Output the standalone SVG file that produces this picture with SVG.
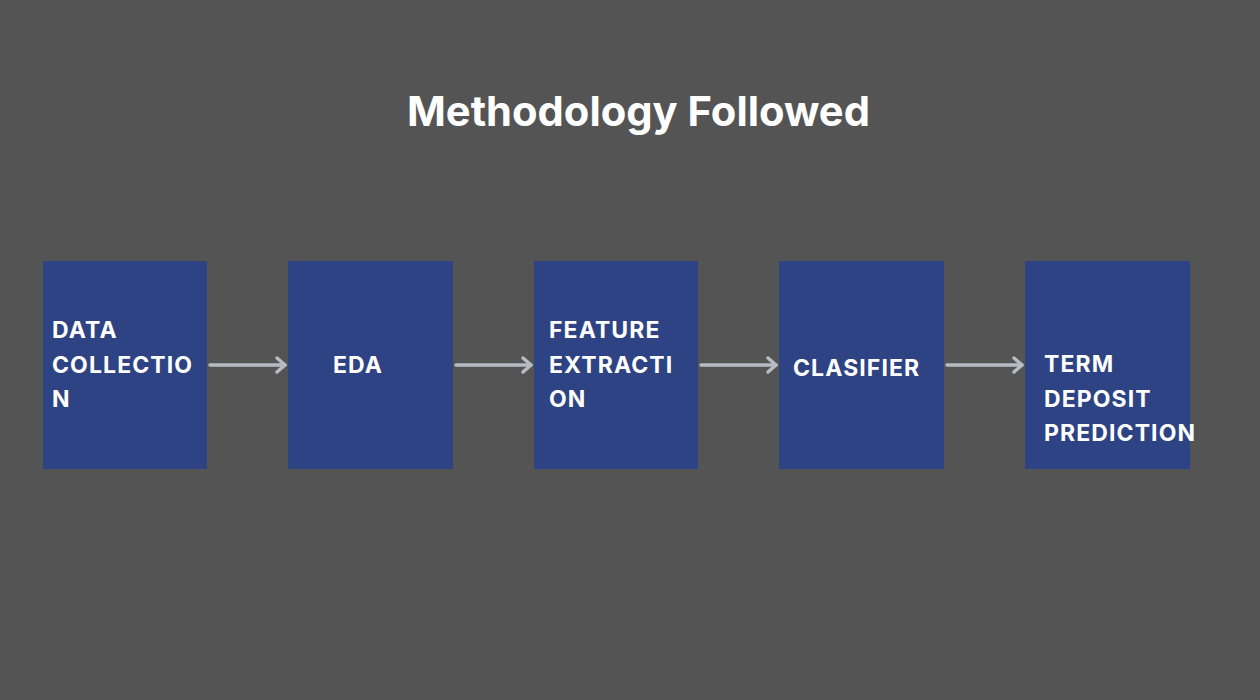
<svg xmlns="http://www.w3.org/2000/svg" width="1260" height="700" viewBox="0 0 1260 700">
<style>
.box{fill:#2e4384}
.lbl{font-family:Inter,"Liberation Sans",sans-serif;font-weight:700;font-size:23px;letter-spacing:1.1px;fill:#ffffff}
.title{font-family:Inter,"Liberation Sans",sans-serif;font-weight:700;font-size:41.7px;fill:#ffffff}
.conn{stroke:#b4bcc4;stroke-width:3.5;fill:none;stroke-linecap:round}
.head{stroke:#b4bcc4;stroke-width:3.5;fill:none;stroke-linecap:round;stroke-linejoin:round}
</style>
<rect width="1260" height="700" fill="#545454"/>
<text class="title" x="638.5" y="126" text-anchor="middle">Methodology Followed</text>
<g id="n1"><rect class="box" x="43" y="261" width="164" height="208"/>
<text class="lbl" x="52" y="338">DATA</text><text class="lbl" x="52" y="372.5">COLLECTIO</text><text class="lbl" x="52" y="407">N</text></g>
<g id="n2"><rect class="box" x="288" y="261" width="165" height="208"/>
<text class="lbl" x="333" y="373">EDA</text></g>
<g id="n3"><rect class="box" x="534" y="261" width="164" height="208"/>
<text class="lbl" x="549" y="338">FEATURE</text><text class="lbl" x="549" y="372.5">EXTRACTI</text><text class="lbl" x="549" y="407">ON</text></g>
<g id="n4"><rect class="box" x="779" y="261" width="165" height="208"/>
<text class="lbl" x="793" y="376">CLASIFIER</text></g>
<g id="n5"><rect class="box" x="1025" y="261" width="165" height="208"/>
<text class="lbl" x="1044" y="372">TERM</text><text class="lbl" x="1044" y="406.5">DEPOSIT</text><text class="lbl" x="1044" y="441">PREDICTION</text></g>
<g id="connectors">
<line class="conn" x1="210" y1="365" x2="285" y2="365"/><polyline class="head" points="277,358 285,365 277,372"/>
<line class="conn" x1="456" y1="365" x2="531" y2="365"/><polyline class="head" points="523,358 531,365 523,372"/>
<line class="conn" x1="701" y1="365" x2="776" y2="365"/><polyline class="head" points="768,358 776,365 768,372"/>
<line class="conn" x1="947" y1="365" x2="1022" y2="365"/><polyline class="head" points="1014,358 1022,365 1014,372"/>
</g>
</svg>
